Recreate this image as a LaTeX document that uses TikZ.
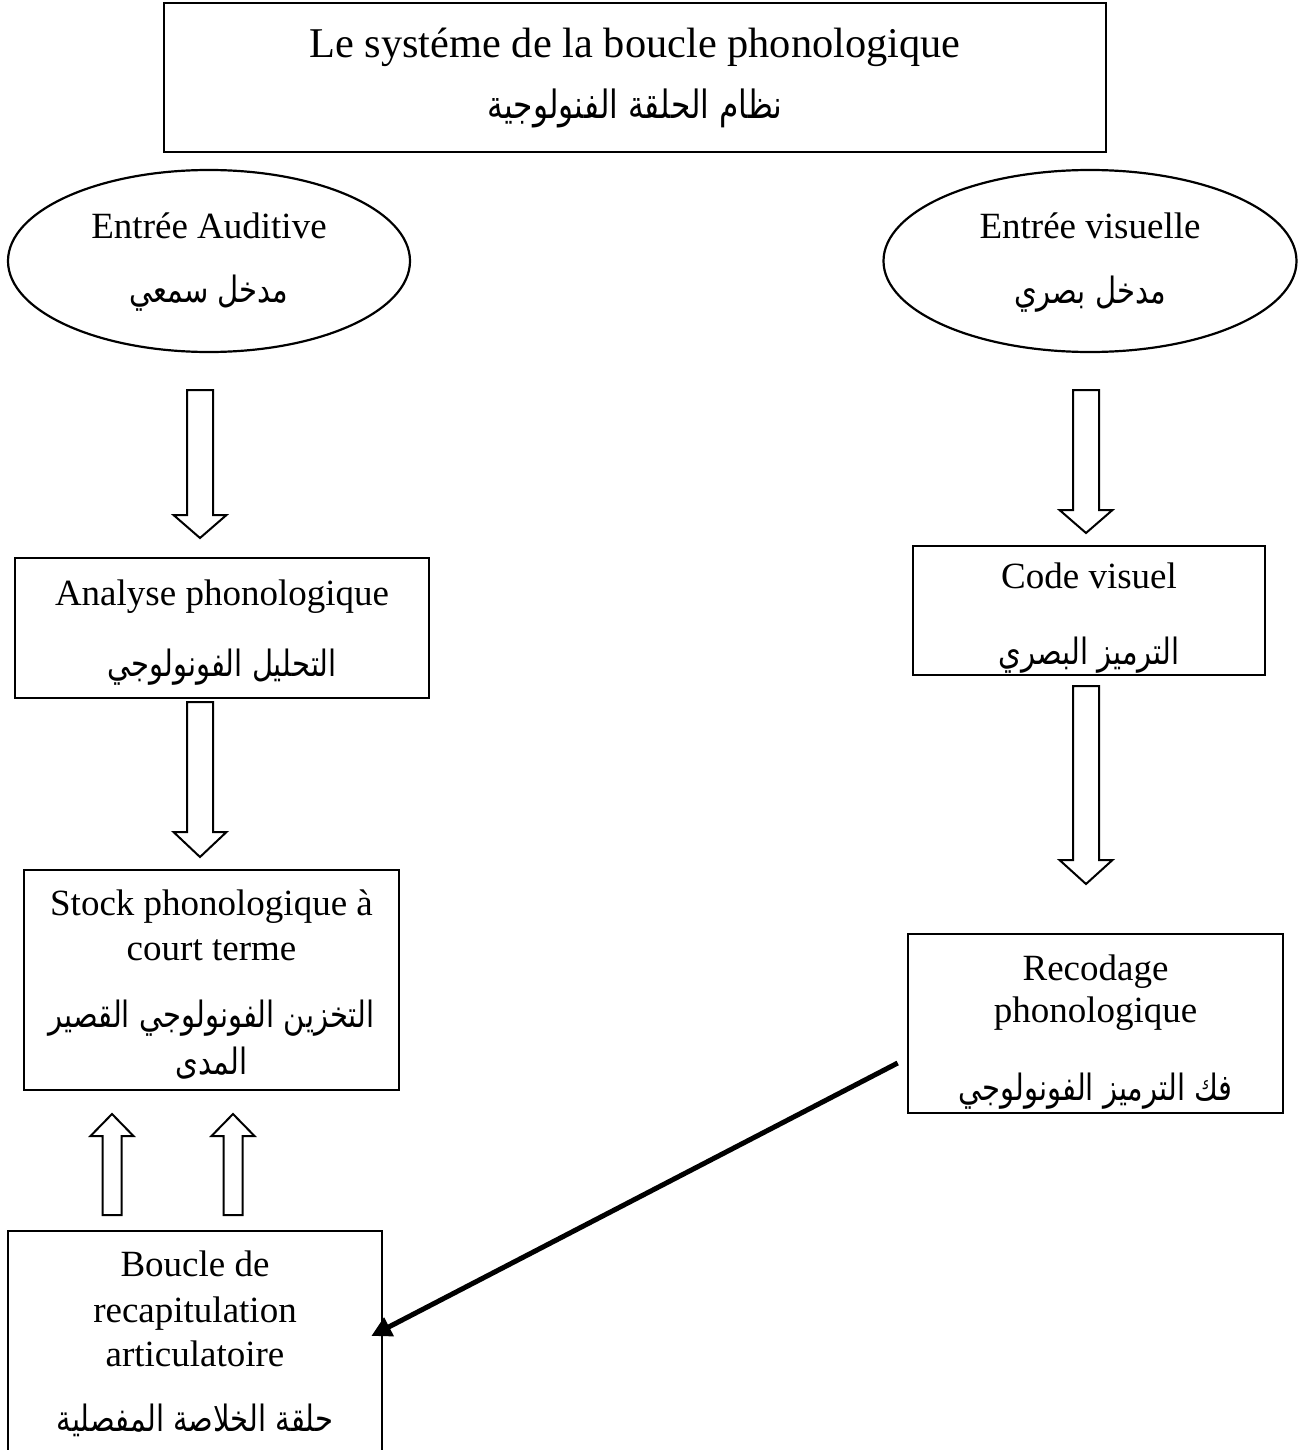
\documentclass[tikz,border=0pt]{standalone}
\usepackage{fontspec}
\usepackage{graphicx}
\setmainfont{Liberation Serif}
\newfontfamily\arabicfont[Script=Arabic]{DejaVu Sans}
\TeXXeTstate=1
\usetikzlibrary{calc,shapes.geometric,arrows.meta}

% right-to-left Arabic line, set a little taller
\newcommand\artext[1]{\scalebox{1}[1.25]{\beginR #1\endR}}

\tikzset{
  box/.style={draw, line width=1.3bp, rectangle, inner sep=0pt},
  oval/.style={draw, line width=1.1bp, ellipse, inner sep=0pt},
  lat/.style={font=\fontsize{18.5bp}{22bp}\selectfont, inner sep=0pt, anchor=base},
  ttl/.style={font=\fontsize{21.2bp}{25bp}\selectfont, inner sep=0pt, anchor=base},
  ar/.style={font=\arabicfont\fontsize{14.5bp}{18bp}\selectfont, inner sep=0pt},
  arttl/.style={font=\arabicfont\fontsize{15.6bp}{19bp}\selectfont, inner sep=0pt},
  hollow/.style={draw, line width=1bp, fill=white, line join=miter},
  link/.style={line width=2.5bp, -{Triangle[length=10bp,width=10bp]}},
}

% hollow block arrow: x, shaft start y, head base y, tip y, shaft half width, head half width
\newcommand\blockarrow[6]{%
  \draw[hollow] ({#1-#5},#2) -- ({#1+#5},#2) -- ({#1+#5},#3) -- ({#1+#6},#3)
    -- (#1,#4) -- ({#1-#6},#3) -- ({#1-#5},#3) -- cycle;}

\begin{document}
\begin{tikzpicture}[x=0.5bp,y=-0.5bp]
\useasboundingbox (0,0) rectangle (1299,1450);

% title
\node[box, minimum width=471bp, minimum height=74.5bp] (title) at (635,77.5) {};
\node[ttl] (titlefr) at (635,58) {Le systéme de la boucle phonologique};
\node[arttl] (titlear) at (635,108) {\artext{نظام الحلقة الفنولوجية}};

% inputs
\node[oval, minimum width=201bp, minimum height=91bp] (audin) at (209,261) {};
\node[lat] (audfr) at (209,238) {Entrée Auditive};
\node[ar] (audar) at (209,293) {\artext{مدخل سمعي}};

\node[oval, minimum width=206.5bp, minimum height=91bp] (visin) at (1090,261) {};
\node[lat] (visfr) at (1090,238) {Entrée visuelle};
\node[ar] (visar) at (1090,294) {\artext{مدخل بصري}};

% auditory branch
\node[box, minimum width=207bp, minimum height=70bp] (analyse) at (222,628) {};
\node[lat] (anafr) at (222,605) {Analyse phonologique};
\node[ar] (anaar) at (222,667) {\artext{التحليل الفونولوجي}};

\node[box, minimum width=187.5bp, minimum height=110bp] (stock) at (211.5,980) {};
\node[lat] (stfr1) at (211.5,915) {Stock phonologique à};
\node[lat] (stfr2) at (211.5,960) {court terme};
\node[ar] (star1) at (211.5,1018) {\artext{التخزين الفونولوجي القصير}};
\node[ar] (star2) at (211.5,1063) {\artext{المدى}};

\node[box, minimum width=187bp, minimum height=112.5bp] (boucle) at (195,1343.5) {};
\node[lat] (bofr1) at (195,1276) {Boucle de};
\node[lat] (bofr2) at (195,1322) {recapitulation};
\node[lat] (bofr3) at (195,1366) {articulatoire};
\node[ar] (boar) at (195,1420) {\artext{حلقة الخلاصة المفصلية}};

% visual branch
\node[box, minimum width=176bp, minimum height=64.5bp] (code) at (1089,610.5) {};
\node[lat] (codefr) at (1089,588) {Code visuel};
\node[ar] (codear) at (1089,655) {\artext{الترميز البصري}};

\node[box, minimum width=187.5bp, minimum height=89.5bp] (recod) at (1095.5,1023.5) {};
\node[lat] (refr1) at (1095.5,980) {Recodage};
\node[lat] (refr2) at (1095.5,1022) {phonologique};
\node[ar] (rear) at (1095.5,1091) {\artext{فك الترميز الفونولوجي}};

% block arrows
\blockarrow{200}{390}{515}{538}{13}{26.5}
\blockarrow{200}{702}{832}{857}{13}{26.5}
\blockarrow{1086}{390}{510}{533}{13}{26.5}
\blockarrow{1086}{686}{860}{884}{13}{26.5}
\blockarrow{112}{1215}{1136}{1114}{9.5}{21.5}
\blockarrow{233}{1215}{1136}{1114}{9.5}{21.5}

% recoding feeds the rehearsal loop
\coordinate (linkstart) at ($(recod.west)+(-9,39.5)$);
\coordinate (linkend) at ($(boucle.east)+(-12,-7.5)$);
\draw[link] (linkstart) -- (linkend);
\end{tikzpicture}
\end{document}
